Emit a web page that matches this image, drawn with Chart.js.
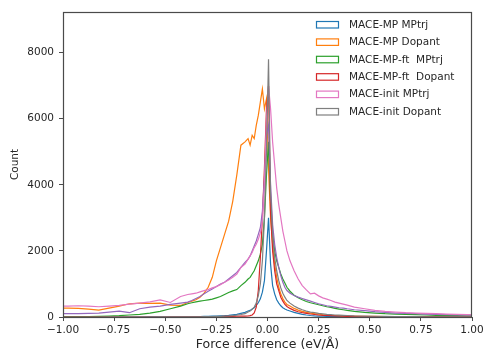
<!DOCTYPE html>
<html>
<head>
<meta charset="utf-8">
<script src="https://cdn.jsdelivr.net/npm/chart.js@4"></script>
<style>
  html, body { margin: 0; padding: 0; background: #fff; }
  #wrap { width: 487px; height: 353px; }
</style>
</head>
<body>
<div id="wrap"><canvas id="forceHist" width="487" height="353"></canvas></div>
<script>
// bin edges (finer near zero)
const edges = [
  -1.00, -0.95, -0.90, -0.85, -0.80, -0.75, -0.70, -0.65, -0.60, -0.55, -0.50, -0.45, -0.40,
  -0.38, -0.36, -0.34, -0.32, -0.30, -0.28, -0.26, -0.24, -0.22, -0.20, -0.18, -0.16, -0.14, -0.12, -0.10,
  -0.09, -0.08, -0.07, -0.06, -0.05, -0.04, -0.03, -0.02, -0.01, 0.00, 0.01, 0.02, 0.03, 0.04, 0.05, 0.06, 0.07, 0.08, 0.09, 0.10,
  0.12, 0.14, 0.16, 0.18, 0.20, 0.22, 0.24, 0.26, 0.28, 0.30, 0.32, 0.34, 0.36, 0.38, 0.40,
  0.45, 0.50, 0.55, 0.60, 0.65, 0.70, 0.75, 0.80, 0.85, 0.90, 0.95, 1.00
];

const labels = ['MACE-MP MPtrj', 'MACE-MP Dopant', 'MACE-MP-ft  MPtrj', 'MACE-MP-ft  Dopant', '', 'MACE-init MPtrj', 'MACE-init Dopant'];
const colors = ['#1f77b4', '#ff7f0e', '#2ca02c', '#d62728', '#9467bd', '#e377c2', '#7f7f7f'];

const mpMptrj = [
  0, 0, 0, 0, 0, 0, 0, 0, 2, 3, 4, 6,
  8, 10, 12, 14, 16, 20, 24, 28, 34, 40, 50, 65, 80, 110, 140,
  180, 200, 240, 280, 350, 430, 550, 750, 1100, 2000, 3000, 1600, 950, 700, 520, 420, 340, 280, 240, 210,
  180, 140, 110, 80, 60, 45, 35, 28, 22, 18, 14, 12, 10, 8, 6,
  5, 4, 3, 2, 2, 1, 1, 1, 0, 0, 0, 0
];
const mpDopant = [
  270, 260, 240, 210, 270, 330, 400, 420, 410, 420, 360, 350,
  440, 480, 520, 600, 720, 900, 1200, 1700, 2100, 2500, 2900, 3500, 4300, 5200, 5300,
  5400, 5200, 5500, 5400, 5800, 6100, 6500, 6900, 6300, 6600, 4500, 3000, 2200, 1600, 1200, 900, 700, 560, 450, 380,
  330, 260, 210, 170, 140, 120, 100, 85, 70, 60, 50, 45, 40, 35, 30,
  25, 20, 18, 15, 12, 10, 8, 7, 6, 5, 4, 3
];
const ftMptrj = [
  10, 10, 15, 20, 30, 40, 60, 80, 120, 170, 250, 330,
  400, 430, 460, 480, 500, 520, 540, 580, 620, 680, 740, 790, 830, 950, 1050,
  1150, 1200, 1300, 1400, 1550, 1700, 1900, 2200, 3000, 4300, 5300, 3500, 2500, 2000, 1700, 1500, 1300, 1150, 1030, 900,
  780, 660, 580, 520, 470, 430, 400, 370, 340, 310, 290, 260, 240, 220, 200,
  170, 140, 120, 100, 90, 80, 70, 60, 50, 45, 40, 35
];
const ftDopant = [
  0, 0, 0, 0, 0, 0, 0, 0, 0, 0, 2, 3,
  4, 5, 6, 7, 8, 9, 10, 12, 14, 16, 18, 20, 22, 25, 28,
  30, 40, 60, 120, 300, 800, 1800, 3000, 4500, 6300, 7000, 3200, 2000, 1400, 1000, 800, 600, 480, 380, 320,
  260, 200, 160, 130, 110, 90, 75, 60, 50, 45, 40, 35, 30, 25, 20,
  15, 12, 10, 8, 6, 5, 4, 3, 3, 2, 2, 2
];
const extraPurple = [
  100, 100, 110, 120, 150, 180, 130, 250, 300, 330, 380, 420,
  450, 500, 560, 620, 700, 780, 850, 920, 1000, 1050, 1150, 1250, 1350, 1500, 1650,
  1750, 1850, 2000, 2150, 2300, 2500, 2700, 3200, 4200, 5500, 5800, 4000, 2800, 2200, 1800, 1500, 1250, 1050, 900, 800,
  720, 650, 600, 560, 520, 480, 440, 400, 370, 340, 320, 300, 280, 270, 250,
  220, 190, 160, 140, 120, 110, 100, 90, 80, 70, 65, 60
];
const initMptrj = [
  330, 340, 330, 310, 330, 350, 390, 420, 460, 520, 440, 620,
  680, 700, 720, 760, 800, 830, 880, 920, 980, 1050, 1120, 1200, 1300, 1500, 1600,
  1750, 1850, 1950, 2100, 2200, 2350, 2550, 2900, 4000, 6000, 7000, 6300, 5300, 4600, 3900, 3400, 3000, 2600, 2300, 2000,
  1700, 1400, 1150, 950, 820, 700, 720, 640, 580, 540, 500, 450, 420, 390, 360,
  300, 250, 200, 170, 150, 130, 120, 110, 100, 90, 80, 70
];
const initDopant = [
  0, 0, 0, 0, 0, 0, 0, 0, 0, 2, 3, 4,
  5, 6, 7, 8, 10, 12, 14, 17, 20, 25, 30, 40, 55, 75, 100,
  150, 180, 230, 300, 420, 650, 1000, 1700, 3000, 5000, 7800, 3800, 2500, 1800, 1400, 1100, 880, 720, 600, 500,
  420, 330, 270, 220, 180, 150, 130, 110, 95, 80, 70, 60, 55, 50, 45,
  35, 28, 22, 18, 15, 12, 10, 8, 7, 6, 5, 4
];

const xTicks = [-1, -0.75, -0.5, -0.25, 0, 0.25, 0.5, 0.75, 1];
const yTicks = [0, 2000, 4000, 6000, 8000];

const allSeries = [mpMptrj, mpDopant, ftMptrj, ftDopant, extraPurple, initMptrj, initDopant];

// counts placed at bin centres, ends carried to the axis limits
function toPoints(vals) {
  const pts = vals.map((v, i) => ({ x: (edges[i] + edges[i + 1]) / 2, y: v }));
  pts.unshift({ x: edges[0], y: vals[0] });
  pts.push({ x: edges[edges.length - 1], y: vals[vals.length - 1] });
  return pts;
}

const FONT = 'DejaVu Sans';
const TXT = '#262626';
const AXC = '#4a4a4a';

// spines + legend drawn inside the axes
const framePlugin = {
  id: 'frame',
  afterDraw(chart) {
    const { ctx, chartArea: a } = chart;
    ctx.save();
    ctx.strokeStyle = AXC;
    ctx.lineWidth = 1.2;
    ctx.strokeRect(a.left + 0.5, a.top + 0.5, a.right - a.left - 1, a.bottom - a.top);
    // legend
    ctx.font = '10.5px ' + FONT;
    ctx.textBaseline = 'middle';
    ctx.textAlign = 'left';
    let row = 0;
    chart.data.datasets.forEach(ds => {
      if (!ds.label) return;
      const cy = a.top + 12.5 + row * 17.4;
      const bx = a.left + 253;
      ctx.strokeStyle = ds.borderColor;
      ctx.lineWidth = 1.2;
      ctx.strokeRect(bx + 0.5, cy - 3, 22, 6.5);
      ctx.fillStyle = TXT;
      ctx.fillText(ds.label, bx + 33, cy + 0.5);
      row++;
    });
    ctx.restore();
  }
};

new Chart(document.getElementById('forceHist').getContext('2d'), {
  type: 'line',
  data: {
    datasets: allSeries.map((s, i) => ({
      label: labels[i],
      data: toPoints(s),
      borderColor: colors[i],
      backgroundColor: 'transparent',
      borderWidth: 1.2,
      pointRadius: 0,
      tension: 0,
      fill: false,
      order: allSeries.length - i
    }))
  },
  options: {
    responsive: false,
    animation: false,
    parsing: false,
    layout: { padding: { left: 0, top: 12, right: 15, bottom: 0 } },
    plugins: {
      legend: { display: false },
      tooltip: { enabled: false }
    },
    scales: {
      x: {
        type: 'linear',
        min: -1,
        max: 1,
        afterFit(scale) { scale.height = 36; },
        afterBuildTicks(scale) { scale.ticks = xTicks.map(v => ({ value: v })); },
        grid: { display: true, drawOnChartArea: false, drawTicks: true, tickLength: 4, color: AXC },
        border: { display: false },
        ticks: {
          color: TXT,
          font: { family: FONT, size: 10.5 },
          padding: 3,
          maxRotation: 0,
          callback: v => v.toFixed(2).replace('-', '\u2212')
        },
        title: {
          display: true,
          text: 'Force difference (eV/Å)',
          color: TXT,
          font: { family: FONT, size: 12.5 },
          padding: { top: 0, bottom: 1 }
        }
      },
      y: {
        type: 'linear',
        min: 0,
        max: 9230,
        afterFit(scale) { scale.width = 63; },
        afterBuildTicks(scale) { scale.ticks = yTicks.map(v => ({ value: v })); },
        grid: { display: true, drawOnChartArea: false, drawTicks: true, tickLength: 4, color: AXC },
        border: { display: false },
        ticks: {
          color: TXT,
          font: { family: FONT, size: 10.5 },
          padding: 5,
          callback: v => String(v)
        },
        title: {
          display: true,
          text: 'Count',
          color: TXT,
          font: { family: FONT, size: 10.5 },
          padding: { top: 9, bottom: 0 }
        }
      }
    }
  },
  plugins: [framePlugin]
});
</script>
</body>
</html>
